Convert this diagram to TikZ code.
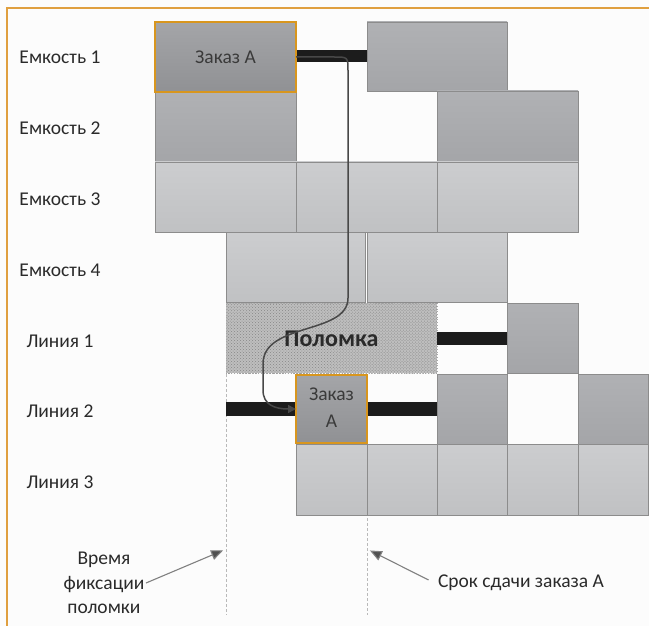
\documentclass[tikz,border=0pt]{standalone}
\usepackage{fontspec}
\setmainfont{Carlito}
\usetikzlibrary{arrows.meta,patterns}

\definecolor{bg}{HTML}{FCFCFC}
\definecolor{frameor}{HTML}{E0A040}
\definecolor{ordbor}{HTML}{D8961E}
\definecolor{cellline}{HTML}{8C8C8C}
\definecolor{txt}{HTML}{2A2A2A}
\definecolor{barblack}{HTML}{1C1C1C}
\definecolor{tipgray}{HTML}{505050}

% one cell of the schedule: name, style, x1, y1, x2, y2 (pixels, y downwards)
\newcommand\cellbox[6]{%
  \node[#2, minimum width={(#5-#3)*1bp}, minimum height={(#6-#4)*1bp}]
    (#1) at ({(#3+#5)/2},{(#4+#6)/2}) {};}

\tikzset{
  cellbase/.style={rectangle, inner sep=0pt, outer sep=0pt, draw=cellline, line width=0.7bp},
  midcell/.style={cellbase, top color={rgb,255:red,176;green,177;blue,180}, bottom color={rgb,255:red,164;green,165;blue,168}},
  lightcell/.style={cellbase, top color={rgb,255:red,204;green,205;blue,207}, bottom color={rgb,255:red,192;green,193;blue,195}},
  ordercell/.style={cellbase, draw=ordbor, line width=2.6bp, top color={rgb,255:red,164;green,165;blue,168}, bottom color={rgb,255:red,144;green,145;blue,148}},
  breakcell/.style={cellbase, draw=gray!70, dotted, preaction={fill={rgb,255:red,190;green,190;blue,190}}, pattern=crosshatch dots, pattern color=gray!95},
  barcell/.style={rectangle, inner sep=0pt, outer sep=0pt, fill=barblack},
  rowlabel/.style={font=\fontsize{19.5bp}{22bp}\selectfont, text=txt, anchor=center},
  ordtext/.style={font=\fontsize{19.5bp}{27bp}\selectfont, text={rgb,255:red,58;green,58;blue,58}, align=center},
  marker/.style={draw=gray!55, dashed, dash pattern=on 3bp off 2bp, line width=0.6bp},
  pointer/.style={draw={rgb,255:red,128;green,128;blue,128}, line width=1.1bp, -{Triangle[length=12bp,width=10bp,fill=tipgray]}, shorten >=1bp},
  flow/.style={draw={rgb,255:red,72;green,72;blue,72}, line width=1.5bp, -{Triangle[length=8bp,width=8bp]}},
}

\begin{document}
\begin{tikzpicture}[x=1bp, y=-1bp]
  \fill[bg] (0,0) rectangle (649,626);
  \useasboundingbox (0,0) rectangle (649,626);
  \draw[frameor, line width=1.3bp] (7,626) -- (7,8) -- (649,8);

  % row labels
  \node[rowlabel] (l1) at (60,57)  {Емкость 1};
  \node[rowlabel] (l2) at (60,128) {Емкость 2};
  \node[rowlabel] (l3) at (60,199) {Емкость 3};
  \node[rowlabel] (l4) at (60,270) {Емкость 4};
  \node[rowlabel] (l5) at (60,341) {Линия 1};
  \node[rowlabel] (l6) at (60,411) {Линия 2};
  \node[rowlabel] (l7) at (60,482) {Линия 3};

  % time markers
  \coordinate (t0top) at (226,374);
  \coordinate (t0bot) at (226,615);
  \coordinate (t1top) at (367,443);
  \coordinate (t1bot) at (367,615);
  \draw[marker] (t0top) -- (t0bot);
  \draw[marker] (t1top) -- (t1bot);

  % Емкость 1
  \cellbox{e1b}{barcell}{296}{50}{367}{62}
  \cellbox{e1c}{midcell}{367}{22}{507}{91}
  % Емкость 2
  \cellbox{e2a}{midcell}{155}{92}{296}{162}
  \cellbox{e2b}{midcell}{437}{91}{578}{162}
  % Емкость 3
  \cellbox{e3a}{lightcell}{155}{162}{296}{232}
  \cellbox{e3b}{lightcell}{296}{162}{437}{232}
  \cellbox{e3c}{lightcell}{437}{162}{578}{232}
  % Емкость 4
  \cellbox{e4a}{lightcell}{226}{232}{365}{302}
  \cellbox{e4b}{lightcell}{367}{232}{507}{302}
  % Линия 1
  \cellbox{m1a}{breakcell}{226}{303}{437}{373}
  \node[font=\bfseries\fontsize{24bp}{26bp}\selectfont, text=txt] (brk) at (331.5,339) {Поломка};
  \cellbox{m1b}{barcell}{437}{332}{507}{345}
  \cellbox{m1c}{midcell}{507}{303}{578}{373}
  % Линия 2
  \cellbox{m2a}{barcell}{226}{402}{296}{416}
  \cellbox{m2c}{barcell}{367}{402}{437}{416}
  \cellbox{m2d}{midcell}{437}{374}{507}{444}
  \cellbox{m2e}{midcell}{578}{374}{648}{444}
  % Линия 3
  \cellbox{m3a}{lightcell}{296}{444}{367}{515}
  \cellbox{m3b}{lightcell}{367}{444}{437}{515}
  \cellbox{m3c}{lightcell}{437}{444}{507}{515}
  \cellbox{m3d}{lightcell}{507}{444}{578}{515}
  \cellbox{m3e}{lightcell}{578}{444}{648}{515}

  % order A, planned and moved
  \cellbox{ordA}{ordercell}{155}{22}{296}{92}
  \node[ordtext] at (ordA.center) {Заказ А};
  \cellbox{ordB}{ordercell}{296}{375}{367}{443}
  \node[ordtext] at ([yshift=1.5bp]ordB.center) {Заказ\\А};

  % transfer of order A
  \draw[flow] (ordA.east) -- (334,57) .. controls (348,57) .. (348,71) -- (348,298)
    .. controls (348,335) and (263,322) .. (263,364) -- (263,390)
    .. controls (263,405) and (275,409) .. (ordB.west);

  % captions
  \node[rowlabel, align=center, font=\fontsize{19.5bp}{24.5bp}\selectfont] (cap0) at (104,583) {Время\\фиксации\\поломки};
  \node[rowlabel] (cap1) at (521,583) {Срок сдачи заказа А};
  \coordinate (p0) at (224,550);
  \coordinate (p1) at (369,550);
  \draw[pointer] (146,583) -- (p0);
  \draw[pointer] (cap1.west) ++(-6,-3) coordinate (c1s) -- (p1);
\end{tikzpicture}
\end{document}
